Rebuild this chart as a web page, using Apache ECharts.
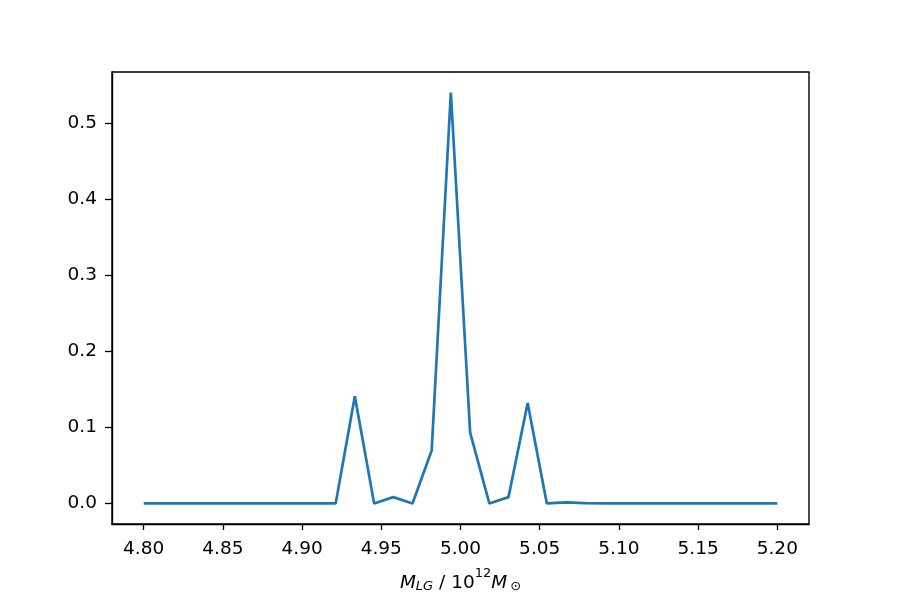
<!DOCTYPE html>
<html>
<head>
<meta charset="utf-8">
<script src="https://cdn.jsdelivr.net/npm/echarts@6/dist/echarts.min.js"></script>
<style>html,body{margin:0;padding:0;background:#fff;}#c{width:900px;height:600px;}</style>
</head>
<body>
<div id="c"></div>
<script>
const massValues = [4.8000, 4.8121, 4.8242, 4.8364, 4.8485, 4.8606, 4.8727, 4.8848, 4.8970, 4.9091,
  4.9212, 4.9333, 4.9455, 4.9576, 4.9697, 4.9818, 4.9939, 5.0061, 5.0182, 5.0303,
  5.0424, 5.0545, 5.0667, 5.0788, 5.0909, 5.1030, 5.1152, 5.1273, 5.1394, 5.1515,
  5.1636, 5.1758, 5.1879, 5.2000];
const probValues = [0, 0, 0, 0, 0, 0, 0, 0, 0, 0,
  0, 0.141, 0, 0.0083, 0, 0.0695, 0.540, 0.093, 0, 0.0083,
  0.132, 0, 0.0015, 0.0005, 0, 0, 0, 0, 0, 0,
  0, 0, 0, 0];
const xTicks = [4.80, 4.85, 4.90, 4.95, 5.00, 5.05, 5.10, 5.15, 5.20];
const yTicks = [0.0, 0.1, 0.2, 0.3, 0.4, 0.5];

const chart = echarts.init(document.getElementById('c'), null, {renderer: 'canvas'});
const font = 'DejaVu Sans';
const fs = 18.5;
const axisCommon = {
  axisLine: {show: true, onZero: false, lineStyle: {color: '#000', width: 1.4}},
  splitLine: {show: false},
};
chart.setOption({
  animation: false,
  backgroundColor: '#fff',
  grid: {left: 112, right: 91, top: 72, bottom: 76, show: true, borderColor: '#000', borderWidth: 1.4, backgroundColor: 'transparent'},
  xAxis: Object.assign({
    type: 'value', min: 4.78, max: 5.22,
    axisTick: {show: true, length: 6, lineStyle: {color: '#000', width: 1.3}, customValues: xTicks},
    axisLabel: {show: true, margin: 16, color: '#000', fontFamily: font, fontSize: fs, customValues: xTicks,
      formatter: v => v.toFixed(2)},
    name: '{i|M}{sub|LG}{n| / 10}{sup|12}{i|M}{subn|⊙}',
    nameLocation: 'middle', nameGap: 43,
    nameTextStyle: {
      color: '#000', fontFamily: font, fontSize: fs,
      rich: {
        i: {fontFamily: font, fontStyle: 'italic', fontSize: fs, lineHeight: 26, color: '#000', verticalAlign: 'bottom'},
        n: {fontFamily: font, fontSize: fs, lineHeight: 26, color: '#000', verticalAlign: 'bottom'},
        sub: {fontFamily: font, fontStyle: 'italic', fontSize: 13, lineHeight: 14, color: '#000', verticalAlign: 'bottom'},
        subn: {fontFamily: font, fontSize: 13, lineHeight: 14, color: '#000', verticalAlign: 'bottom', padding: [0, 0, 0, 3]},
        sup: {fontFamily: font, fontSize: 13, lineHeight: 15, color: '#000', verticalAlign: 'top'}
      }
    }
  }, axisCommon),
  yAxis: Object.assign({
    type: 'value', min: -0.027, max: 0.567,
    axisTick: {show: true, length: 7, lineStyle: {color: '#000', width: 1.3}, customValues: yTicks},
    axisLabel: {show: true, margin: 15, color: '#000', fontFamily: font, fontSize: fs, customValues: yTicks,
      formatter: v => v.toFixed(1)}
  }, axisCommon),
  series: [{
    type: 'line',
    data: massValues.map((x, i) => [x, probValues[i]]),
    showSymbol: false,
    symbol: 'none',
    lineStyle: {color: '#1f77b4', width: 2.7},
    itemStyle: {color: '#1f77b4'}
  }]
});
</script>
</body>
</html>
